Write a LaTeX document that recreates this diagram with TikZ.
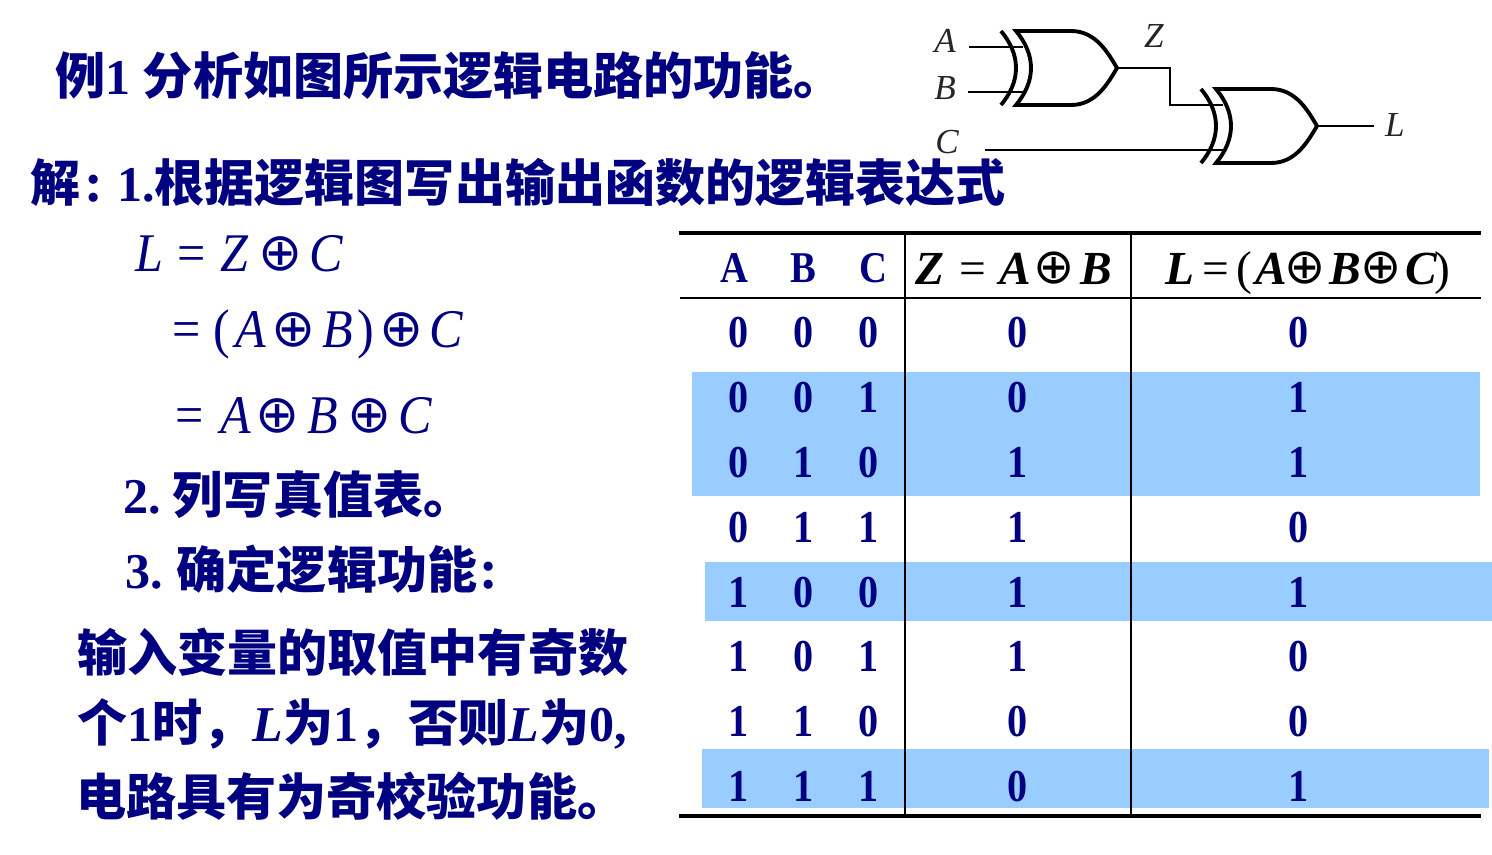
\documentclass[tikz,border=0pt]{standalone}
\usepackage{fontspec}
\setmainfont{Liberation Serif}
\newfontfamily\cjk{Noto Sans CJK SC}
\newfontfamily\symfont{DejaVu Sans}
\newfontfamily\cellfont[FakeStretch=0.88]{Liberation Serif}
\newfontfamily\formfont[FakeStretch=0.92]{Liberation Serif}
\usetikzlibrary{positioning}
\definecolor{navytext}{HTML}{000080}
\definecolor{bandblue}{HTML}{99CCFF}
\newcommand{\zh}[1]{{\cjk\bfseries #1}}
\newcommand{\kp}[1]{\hspace*{#1\dimexpr 0.5669pt\relax}}
\newcommand{\bigcolon}{{\fontsize{32}{32}\selectfont :}}
\newcommand{\xo}[1]{\raisebox{0.015em}{\fontsize{#1}{#1}\selectfont\symfont\mdseries\upshape ⊕}}
\tikzset{
    heading/.style={anchor=west, inner sep=0pt, text=navytext, font=\fontsize{28.5}{30}\selectfont\bfseries},
    formula/.style={anchor=base west, inner sep=0pt, text=navytext, font=\fontsize{31}{34}\selectfont\formfont\itshape},
    cell/.style={inner sep=0pt, xshift=0.5pt, yshift=-0.5pt, text=navytext, font=\fontsize{26}{28}\selectfont\cellfont\bfseries},
    titlecell/.style={inner sep=0pt, text=navytext, font=\fontsize{25}{28}\selectfont\cellfont\bfseries},
    headcell/.style={anchor=base west, inner sep=0pt, text=black, font=\fontsize{27}{29}\selectfont\bfseries\itshape},
    pinlabel/.style={inner sep=0pt, text=black!85, font=\fontsize{20}{22}\selectfont\itshape},
    wire/.style={line width=1.6pt},
    band/.style={fill=bandblue, draw=none},
    heavyrule/.style={line width=2pt},
    thinrule/.style={line width=1.1pt},
    pics/xorgate/.style={code={
        \draw[line width=2.2pt, line join=miter] (0,0)--(55,0) .. controls (80,0) and (92,22) .. (101,37)
            .. controls (92,52) and (80,74) .. (55,74)--(0,74) .. controls (20,50) and (20,24) .. (0,0)--cycle;
        \draw[line width=2.2pt] (-15,0) .. controls (5,24) and (5,50) .. (-15,74);
        \coordinate (-in1) at (7,16);
        \coordinate (-in2) at (7,61);
        \coordinate (-out) at (101,37);
    }}
}
\begin{document}
\begin{tikzpicture}[x=0.02cm, y=-0.02cm]
            \useasboundingbox (0,0) rectangle (1492,855);

            \fill[band] (692,372) rectangle (1480,496);
            \fill[band] (705,562) rectangle (1492,621);
            \fill[band] (702,749) rectangle (1489,808);

            \node[heading] (title) at (55,76) {\zh{例}1 \zh{分析如图所示逻辑电路的功能。}};
            \node[heading] (step1) at (30,182) {\zh{解}\kp{4}\bigcolon\kp{14}1.\zh{根据逻辑图写出输出函数的逻辑表达式}};
            \node[heading] (step2) at (123,495) {2.\kp{12}\zh{列写真值表。}};
            \node[heading] (step3) at (125,569) {3.\kp{14}\zh{确定逻辑功能}\kp{2}\bigcolon};
            \node[heading] (para1) at (77,652) {\zh{输入变量的取值中有奇数}};
            \node[heading] (para2) at (77,724) {\zh{个}1\zh{时，}\textit{L}\zh{为}1\zh{，否则}\textit{L}\zh{为}0,};
            \node[heading] (para3) at (76,796) {\zh{电路具有为奇校验功能。}};

            \node[formula] (eq1) at (135,271) {L\kp{14.4}{\upshape =}\kp{14.4}Z\kp{10.4}\xo{30}\kp{7}C};
            \node[formula] (eq2) at (172,347) {{\upshape =}\kp{12.5}{\upshape(}\kp{5.4}A\kp{6}\xo{30}\kp{7}B\kp{3.7}{\upshape)}\kp{5.4}\xo{30}\kp{6}C};
            \node[formula] (eq3) at (175,433) {{\upshape =}\kp{16.5}A\kp{5}\xo{30}\kp{8}B\kp{8.7}\xo{30}\kp{7}C};

            \pic (G1) at (1016,31) {xorgate};
            \pic (G2) at (1216,89) {xorgate};
            \node[pinlabel] (lblA) at (945,41) {A};
            \node[pinlabel] (lblB) at (945,88) {B};
            \node[pinlabel] (lblC) at (947,142) {C};
            \node[pinlabel] (lblZ) at (1154,36) {Z};
            \node[pinlabel] (lblL) at (1395,125) {L};
            \coordinate (inA) at (969,47);
            \coordinate (inB) at (968,92);
            \coordinate (inC) at (985,150);
            \coordinate (bendZ) at (1170,90);
            \coordinate (outL) at (1374,126);
            \draw[wire] (inA)--(G1-in1);
            \draw[wire] (inB)--(G1-in2);
            \draw[wire] (inC)--(G2-in2);
            \draw[wire] (G1-out)-|(bendZ)|-(G2-in1);
            \draw[wire] (G2-out)--(outL);

            \draw[heavyrule] (679,233)--(1481,233);
            \draw[thinrule] (680,298)--(1481,298);
            \draw[heavyrule] (679,816)--(1481,816);
            \draw[thinrule] (905,233)--(905,816);
            \draw[thinrule] (1131,233)--(1131,816);

            \node[titlecell] (hA) at (734,268) {A};
            \node[titlecell] (hB) at (803,268) {B};
            \node[titlecell] (hC) at (873,268) {C};
            \node[headcell] (hZ) at (915,284) {Z\kp{15}{\mdseries\upshape =}\kp{14}A\kp{2}\xo{28}\kp{6}B};
            \node[headcell] (hL) at (1165,284) {L\kp{8}{\mdseries\upshape =}\kp{8}{\mdseries\upshape(}\kp{3}A\kp{-3}\xo{28}\kp{4}B\kp{-1}\xo{28}\kp{4}C\kp{-3}{\mdseries\upshape)}};

            \node[cell] (a1) at (738,332) {0};
            \node[cell] (b1) at (803,332) {0};
            \node[cell] (c1) at (868,332) {0};
            \node[cell] (z1) at (1017,332) {0};
            \node[cell] (l1) at (1298,332) {0};

            \node[cell] (a2) at (738,397) {0};
            \node[cell] (b2) at (803,397) {0};
            \node[cell] (c2) at (868,397) {1};
            \node[cell] (z2) at (1017,397) {0};
            \node[cell] (l2) at (1298,397) {1};

            \node[cell] (a3) at (738,462) {0};
            \node[cell] (b3) at (803,462) {1};
            \node[cell] (c3) at (868,462) {0};
            \node[cell] (z3) at (1017,462) {1};
            \node[cell] (l3) at (1298,462) {1};

            \node[cell] (a4) at (738,527) {0};
            \node[cell] (b4) at (803,527) {1};
            \node[cell] (c4) at (868,527) {1};
            \node[cell] (z4) at (1017,527) {1};
            \node[cell] (l4) at (1298,527) {0};

            \node[cell] (a5) at (738,592) {1};
            \node[cell] (b5) at (803,592) {0};
            \node[cell] (c5) at (868,592) {0};
            \node[cell] (z5) at (1017,592) {1};
            \node[cell] (l5) at (1298,592) {1};

            \node[cell] (a6) at (738,656) {1};
            \node[cell] (b6) at (803,656) {0};
            \node[cell] (c6) at (868,656) {1};
            \node[cell] (z6) at (1017,656) {1};
            \node[cell] (l6) at (1298,656) {0};

            \node[cell] (a7) at (738,721) {1};
            \node[cell] (b7) at (803,721) {1};
            \node[cell] (c7) at (868,721) {0};
            \node[cell] (z7) at (1017,721) {0};
            \node[cell] (l7) at (1298,721) {0};

            \node[cell] (a8) at (738,786) {1};
            \node[cell] (b8) at (803,786) {1};
            \node[cell] (c8) at (868,786) {1};
            \node[cell] (z8) at (1017,786) {0};
            \node[cell] (l8) at (1298,786) {1};
\end{tikzpicture}
\end{document}
